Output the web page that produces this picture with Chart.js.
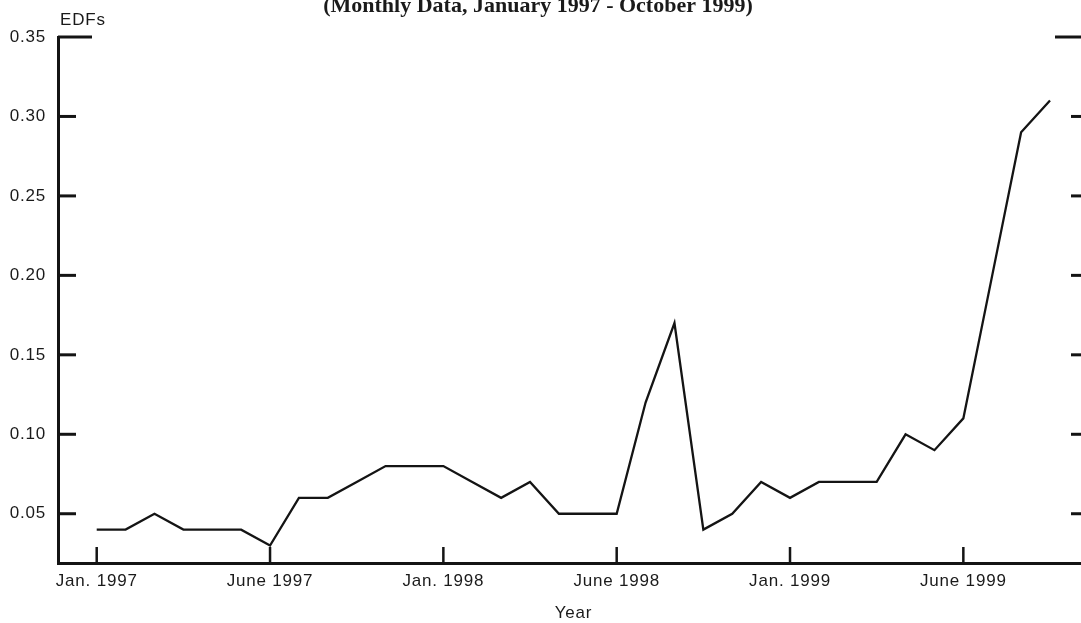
<!DOCTYPE html>
<html>
<head>
<meta charset="utf-8">
<script src="https://cdn.jsdelivr.net/npm/chart.js@4.4.1/dist/chart.umd.min.js"></script>
<style>
    html, body { margin: 0; padding: 0; background: #fff; }
    #wrap { width: 1081px; height: 623px; overflow: hidden; position: relative; }
    canvas { display: block; }
</style>
</head>
<body>
<div id="wrap"><canvas id="edfChart" width="1100" height="623"></canvas></div>
<script>
// Monthly data, Jan 1997 - Oct 1999
const months = [
    'Jan 1997', 'Feb 1997', 'Mar 1997', 'Apr 1997', 'May 1997', 'Jun 1997',
    'Jul 1997', 'Aug 1997', 'Sep 1997', 'Oct 1997', 'Nov 1997', 'Dec 1997',
    'Jan 1998', 'Feb 1998', 'Mar 1998', 'Apr 1998', 'May 1998', 'Jun 1998',
    'Jul 1998', 'Aug 1998', 'Sep 1998', 'Oct 1998', 'Nov 1998', 'Dec 1998',
    'Jan 1999', 'Feb 1999', 'Mar 1999', 'Apr 1999', 'May 1999', 'Jun 1999',
    'Jul 1999', 'Aug 1999', 'Sep 1999', 'Oct 1999'
];
const edfs = [
    0.04, 0.04, 0.05, 0.04, 0.04, 0.04,
    0.03, 0.06, 0.06, 0.07, 0.08, 0.08,
    0.08, 0.07, 0.06, 0.07, 0.05, 0.05,
    0.05, 0.12, 0.17, 0.04, 0.05, 0.07,
    0.06, 0.07, 0.07, 0.07, 0.10, 0.09,
    0.11, 0.20, 0.29, 0.31
];

// x tick marks sit at these month indexes
const xTickIndex = [0, 6, 12, 18, 24, 30];
const xTickLabels = ['Jan. 1997', 'June 1997', 'Jan. 1998', 'June 1998', 'Jan. 1999', 'June 1999'];
const yTicks = [0.05, 0.10, 0.15, 0.20, 0.25, 0.30, 0.35];

const titleText = '(Monthly Data, January 1997 - October 1999)';
const yTitle = 'EDFs';
const xTitle = 'Year';

const ink = '#141414';

function strokeLine(ctx, x1, y1, x2, y2) {
    ctx.beginPath();
    ctx.moveTo(x1, y1);
    ctx.lineTo(x2, y2);
    ctx.stroke();
}

// inward tick marks, title and axis captions
const framePlugin = {
    id: 'frame',
    beforeDraw(chart) {
        chart.ctx.letterSpacing = '0.8px';
    },
    afterDraw(chart) {
        const ctx = chart.ctx;
        const a = chart.chartArea;
        const x = chart.scales.x;
        const y = chart.scales.y;

        ctx.save();
        ctx.strokeStyle = ink;
        ctx.lineCap = 'butt';
        ctx.lineWidth = 3;
        yTicks.forEach(v => {
            const py = y.getPixelForValue(v);
            const len = v === y.max ? 34 : 18;
            strokeLine(ctx, a.left, py, a.left + len, py);
            strokeLine(ctx, a.right - len, py, a.right, py);
        });

        ctx.lineWidth = 2.5;
        xTickIndex.forEach(i => {
            const px = x.getPixelForValue(i);
            strokeLine(ctx, px, a.bottom, px, a.bottom - 16);
        });

        ctx.fillStyle = '#1a1a1a';
        ctx.letterSpacing = '0px';
        ctx.textBaseline = 'alphabetic';
        ctx.font = 'bold 22px "Liberation Serif"';
        ctx.textAlign = 'center';
        ctx.fillText(titleText, 538, 12);

        ctx.letterSpacing = '0.8px';
        ctx.font = '17px "Liberation Sans"';
        ctx.textAlign = 'left';
        ctx.fillText(yTitle, 60, 25);
        ctx.textAlign = 'center';
        ctx.fillText(xTitle, (a.left + a.right) / 2, 618);
        ctx.restore();
    }
};

const points = edfs.map((v, i) => ({ x: i, y: v }));

const chart = new Chart(document.getElementById('edfChart').getContext('2d'), {
    type: 'line',
    data: {
        datasets: [{
            label: 'EDFs',
            data: points,
            borderColor: ink,
            borderWidth: 2.3,
            pointRadius: 0,
            tension: 0,
            fill: false
        }]
    },
    options: {
        responsive: false,
        animation: false,
        devicePixelRatio: 1,
        layout: {
            padding: { top: 37, right: 11, left: 0, bottom: 0 }
        },
        plugins: {
            legend: { display: false },
            tooltip: { enabled: false }
        },
        scales: {
            x: {
                type: 'linear',
                min: -1.34,
                max: 34.35,
                afterFit: s => { s.height = 60; },
                afterBuildTicks: s => { s.ticks = xTickIndex.map(v => ({ value: v })); },
                grid: { display: false, drawTicks: false },
                border: { display: true, width: 3, color: ink },
                ticks: {
                    autoSkip: false,
                    maxRotation: 0,
                    padding: 8,
                    color: '#1a1a1a',
                    font: { family: 'Liberation Sans', size: 17 },
                    callback: function(value) {
                        const k = xTickIndex.indexOf(value);
                        return k >= 0 ? xTickLabels[k] : '';
                    }
                }
            },
            y: {
                min: 0.019,
                max: 0.35,
                afterFit: s => { s.width = 58; },
                afterBuildTicks: s => { s.ticks = yTicks.map(v => ({ value: v })); },
                grid: { display: false, drawTicks: false },
                border: { display: true, width: 3, color: ink },
                ticks: {
                    padding: 12,
                    color: '#1a1a1a',
                    font: { family: 'Liberation Sans', size: 17 },
                    callback: function(value) {
                        return value.toFixed(2);
                    }
                }
            }
        }
    },
    plugins: [framePlugin]
});
</script>
</body>
</html>
